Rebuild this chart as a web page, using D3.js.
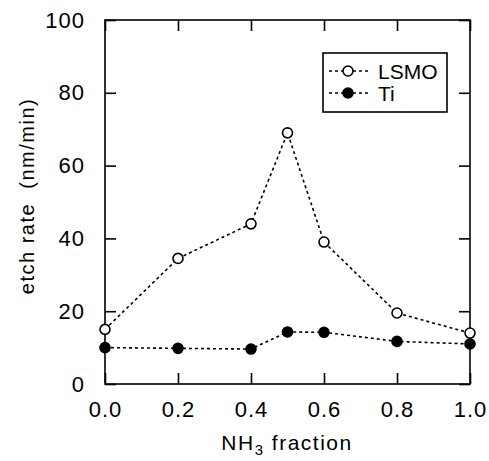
<!DOCTYPE html>
<html>
<head>
<meta charset="utf-8">
<script src="https://cdn.jsdelivr.net/npm/d3@7"></script>
<style>
  body { margin: 0; background: #fff; }
  text { font-family: "Liberation Sans", Arial, sans-serif; fill: #000; }
</style>
</head>
<body>
<svg id="chart" width="489" height="461"></svg>
<script>
// data
var fractions = [0.0, 0.2, 0.4, 0.5, 0.6, 0.8, 1.0];
var lsmo = [15, 34.5, 44, 69, 39, 19.5, 14];
var ti = [10, 9.8, 9.6, 14.3, 14.2, 11.7, 11];
var xTicks = [0, 0.2, 0.4, 0.6, 0.8, 1.0];
var yTicks = [0, 20, 40, 60, 80, 100];

var svg = d3.select("#chart");
var plotLeft = 105, plotRight = 470, plotTop = 20, plotBottom = 384;

var x = d3.scaleLinear().domain([0, 1]).range([plotLeft, plotRight]);
var y = d3.scaleLinear().domain([0, 100]).range([plotBottom, plotTop]);

// frame
svg.append("rect")
  .attr("x", plotLeft).attr("y", plotTop)
  .attr("width", plotRight - plotLeft).attr("height", plotBottom - plotTop)
  .style("fill", "none").style("stroke", "#000").style("stroke-width", 1.6);

// inward ticks on all four sides
var tickLen = 11;
svg.append("g").attr("transform", "translate(0," + plotBottom + ")")
  .call(d3.axisBottom(x).tickValues(xTicks).tickSize(-tickLen).tickPadding(tickLen + 6)
    .tickFormat(d3.format(".1f")))
  .call(function (g) { g.select(".domain").remove(); });
svg.append("g").attr("transform", "translate(0," + plotTop + ")")
  .call(d3.axisTop(x).tickValues(xTicks).tickSize(-tickLen).tickFormat(""))
  .call(function (g) { g.select(".domain").remove(); });
svg.append("g").attr("transform", "translate(" + plotLeft + ",0)")
  .call(d3.axisLeft(y).tickValues(yTicks).tickSize(-tickLen).tickPadding(tickLen + 9))
  .call(function (g) { g.select(".domain").remove(); });
svg.append("g").attr("transform", "translate(" + plotRight + ",0)")
  .call(d3.axisRight(y).tickValues(yTicks).tickSize(-tickLen).tickFormat(""))
  .call(function (g) { g.select(".domain").remove(); });

svg.selectAll(".tick line").style("stroke", "#000").style("stroke-width", 1.6);
svg.selectAll(".tick text")
  .style("font-family", "'Liberation Sans', Arial, sans-serif")
  .style("font-size", "22px").style("letter-spacing", "1px").style("fill", "#000");

// series
var line = d3.line()
  .x(function (d) { return x(d[0]); })
  .y(function (d) { return y(d[1]); });

function drawSeries(values, filled) {
  var pts = fractions.map(function (f, i) { return [f, values[i]]; });
  svg.append("path")
    .datum(pts)
    .attr("d", line)
    .style("fill", "none").style("stroke", "#000")
    .style("stroke-width", 1.6).style("stroke-dasharray", "3,3");
  svg.append("g").selectAll("circle")
    .data(pts)
    .enter()
    .append("circle")
    .attr("cx", function (d) { return x(d[0]); })
    .attr("cy", function (d) { return y(d[1]); })
    .attr("r", 5)
    .style("fill", filled ? "#000" : "#fff")
    .style("stroke", "#000").style("stroke-width", 1.6);
}
drawSeries(lsmo, false);
drawSeries(ti, true);

// legend
var legend = svg.append("g");
legend.append("rect")
  .attr("x", 323).attr("y", 53).attr("width", 124).attr("height", 59)
  .style("fill", "#fff").style("stroke", "#000").style("stroke-width", 1.6);
var legendItems = [{ name: "LSMO", filled: false }, { name: "Ti", filled: true }];
legendItems.forEach(function (d, i) {
  var ly = 71 + i * 22;
  legend.append("line")
    .attr("x1", 329).attr("x2", 368).attr("y1", ly).attr("y2", ly)
    .style("stroke", "#000").style("stroke-width", 1.6).style("stroke-dasharray", "3,3");
  legend.append("circle")
    .attr("cx", 348).attr("cy", ly).attr("r", 5)
    .style("fill", d.filled ? "#000" : "#fff")
    .style("stroke", "#000").style("stroke-width", 1.6);
  legend.append("text")
    .attr("x", 378).attr("y", ly + 8)
    .style("font-size", "21px")
    .text(d.name);
});

// axis titles
svg.append("text")
  .attr("transform", "translate(34,196) rotate(-90)")
  .attr("text-anchor", "middle")
  .style("font-size", "20px").style("letter-spacing", "1.5px")
  .attr("xml:space", "preserve")
  .text("etch rate  (nm/min)");

var xt = svg.append("text")
  .attr("x", 287).attr("y", 450)
  .attr("text-anchor", "middle")
  .style("font-size", "21px").style("letter-spacing", "1.5px");
xt.append("tspan").text("NH");
xt.append("tspan").attr("dy", 5).style("font-size", "15px").text("3");
xt.append("tspan").attr("dy", -5).text(" fraction");
</script>
</body>
</html>
